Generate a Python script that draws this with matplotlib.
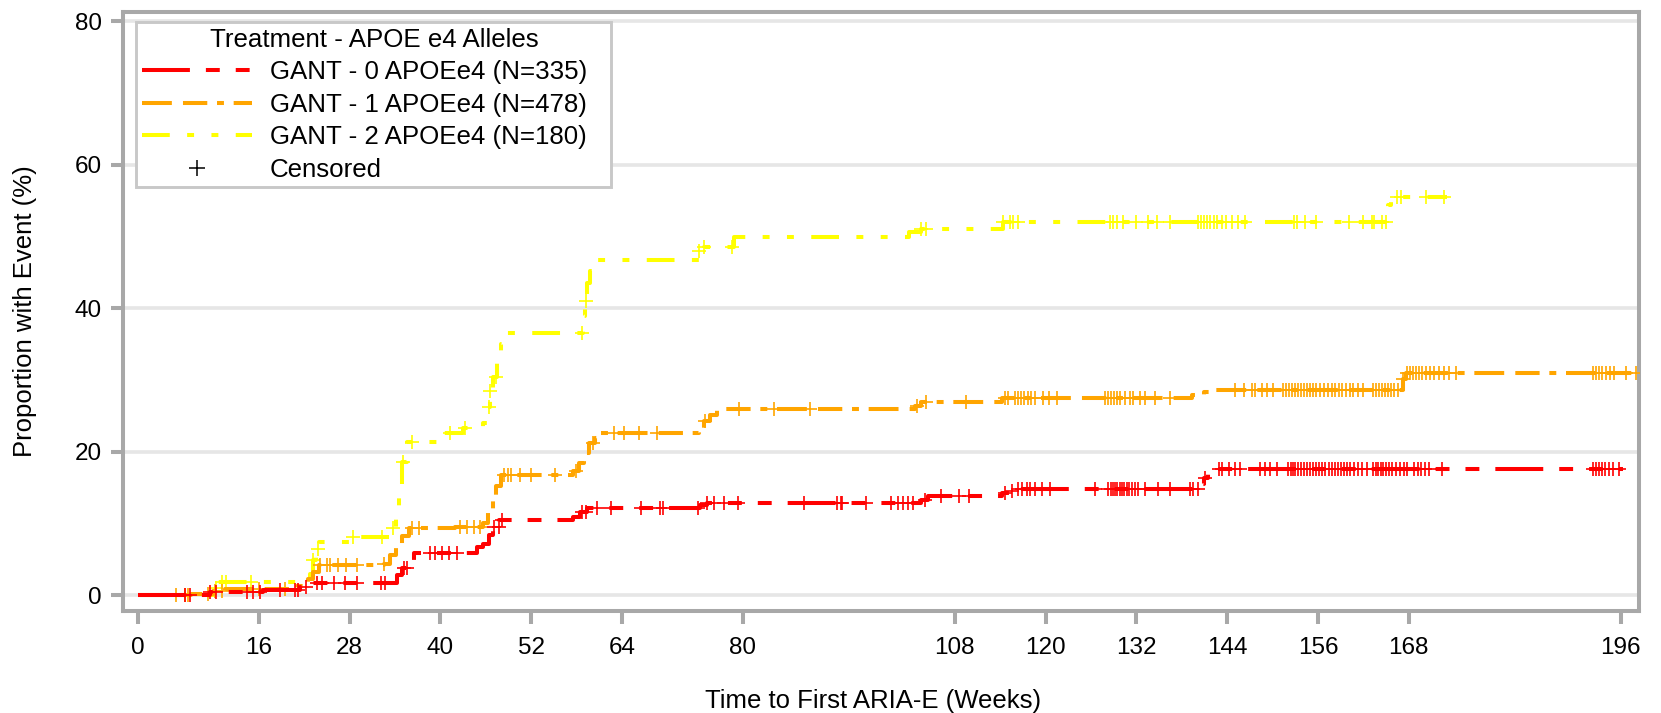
import numpy as np
import matplotlib.pyplot as plt
from matplotlib.lines import Line2D

# Cumulative proportion with first ARIA-E (%), step times in weeks
apoe0_times = [0, 9.5, 16.5, 21.5, 22.5, 34.3, 35.0, 35.7, 36.5, 44.9, 45.7,
               46.4, 47.0, 47.8, 57.6, 58.5, 59.4, 74.3, 75.3, 103.6, 104.5,
               114.2, 115.3, 116.4, 140.3, 140.9, 141.5, 142.0]
apoe0_pct = [0, 0.5, 0.8, 1.2, 1.8, 2.9, 3.8, 4.8, 5.9, 6.8, 7.2,
             8.5, 9.6, 10.5, 11.0, 11.6, 12.2, 12.6, 12.9, 13.3, 13.8,
             14.3, 14.6, 14.9, 15.6, 16.4, 17.1, 17.6]
apoe0_end = 196.3
apoe0_censor = [6.2, 6.9, 9.5, 10.4, 14.4, 15.3, 16.2, 18.8, 20.8, 21.2, 22.3,
                23.7, 24.3, 25.9, 27.4, 29.0, 32.1, 32.7,
                35.2, 35.6, 38.7, 39.3, 40.2, 41.1, 42.2,
                47.1, 47.7, 48.2, 58.7, 59.2, 60.7, 62.5, 66.5, 69.0, 69.4,
                74.0, 75.3, 76.2, 77.5, 79.3, 88.1, 92.5, 92.9, 93.1,
                96.3, 99.6, 100.5, 101.1, 101.8, 102.5,
                104.0, 106.2, 108.6, 109.9,
                114.6, 115.5, 116.4, 116.9, 117.5, 118.0, 118.6, 119.5, 120.6,
                126.5, 128.3, 128.6, 128.9, 129.2, 129.5, 129.8, 130.1, 130.4,
                130.7, 131.0, 131.4, 131.8, 132.2, 133.1, 134.9, 136.4, 139.1,
                139.5, 140.2, 141.1, 142.9, 143.3, 144.2, 145.0, 145.7, 148.4,
                149.0, 149.7, 150.6, 152.1, 152.4, 152.7, 153.0, 153.4, 153.8,
                154.2, 154.6, 155.0, 155.4, 155.8, 156.2, 156.6, 157.0, 157.4,
                157.8, 158.2, 158.6, 159.0, 159.4, 159.8, 160.3, 160.8, 161.3,
                161.8, 162.5, 163.3, 163.7, 164.0, 164.3, 164.6, 165.0, 165.4,
                165.8, 166.3, 166.9, 167.4, 167.8, 168.7, 169.2, 169.6, 170.1,
                170.7, 172.4, 192.3, 192.8, 193.2, 193.6, 194.0, 194.5, 195.0,
                195.8]

apoe1_times = [0, 7.0, 10.0, 11.5, 21.0, 22.5, 23.2, 24.0, 32.5, 33.4, 34.2,
               35.0, 35.8, 42.0, 45.7, 46.3, 46.9, 47.4, 48.0, 57.6, 58.3,
               59.0, 59.6, 60.4, 61.2, 74.2, 74.9, 75.7, 76.6, 102.7, 103.6,
               114.2, 139.4, 141.0, 142.3, 167.2, 167.6]
apoe1_pct = [0, 0.2, 0.6, 0.9, 1.3, 2.3, 3.3, 4.2, 4.4, 5.6, 7.0,
             8.3, 9.4, 9.6, 10.1, 11.8, 13.5, 15.2, 16.8, 17.3, 18.5,
             19.9, 21.3, 22.0, 22.6, 23.4, 24.3, 25.2, 26.0, 26.4, 26.9,
             27.5, 27.9, 28.3, 28.6, 30.2, 31.0]
apoe1_end = 199.5
apoe1_censor = [5.1, 6.2, 6.7, 9.3, 10.2, 11.1, 16.0, 19.5,
                24.1, 25.0, 25.4, 26.5, 27.6, 29.0, 32.5,
                36.3, 37.2, 42.6, 43.5, 44.4, 45.3,
                48.4, 48.9, 49.3, 50.6, 52.0, 55.1,
                58.0, 60.2, 62.9, 64.3, 66.2, 68.7,
                75.0, 79.5, 84.1, 88.8,
                103.0, 104.2, 109.5, 114.6, 115.1, 116.0, 116.4, 116.8, 117.2,
                117.7, 118.1, 118.6, 119.7, 120.4, 121.5,
                127.9, 128.3, 128.7, 129.1, 129.5, 129.9, 130.5, 131.2, 131.6,
                132.5, 133.1, 134.5, 136.4,
                145.1, 146.2, 147.3, 147.7, 148.6, 149.3, 150.1,
                151.4, 151.8, 152.2, 152.6, 153.0, 153.4, 153.8, 154.2, 154.6,
                155.0, 155.4, 155.8, 156.3, 156.8, 157.3, 157.8, 158.3, 158.8,
                159.2, 159.7, 160.2, 160.7, 161.3, 161.9,
                163.3, 163.7, 164.1, 164.5, 164.9, 165.3, 165.7, 166.1, 166.6,
                167.2, 167.8, 168.2, 168.6, 169.0, 169.4, 169.8, 170.3, 170.8,
                171.4, 172.0, 172.6, 173.3, 174.2,
                192.3, 192.8, 193.2, 193.6, 194.1, 194.6, 195.2, 196.7, 198.0]

apoe2_times = [0, 10.0, 10.5, 22.8, 23.2, 23.6, 24.0, 28.5, 33.8, 34.2, 34.6,
               35.0, 35.6, 40.4, 43.0, 45.7, 46.2, 46.6, 47.0, 47.5, 48.0,
               48.6, 58.8, 59.1, 59.4, 59.8, 60.7, 74.2, 74.9, 78.8, 102.0,
               103.6, 114.4, 165.2, 165.6]
apoe2_pct = [0, 1.0, 1.9, 3.0, 5.0, 6.5, 7.5, 8.2, 9.4, 12.0, 15.5,
             18.6, 21.4, 22.6, 23.4, 24.0, 26.3, 28.5, 30.5, 32.5, 35.0,
             36.6, 38.9, 41.0, 43.5, 45.2, 46.7, 48.0, 48.6, 49.9, 50.6,
             51.1, 52.1, 54.4, 55.6]
apoe2_end = 173.1
apoe2_censor = [10.4, 11.1, 11.7, 15.0, 23.2, 23.9, 28.5, 32.3, 33.8, 35.1,
                36.2, 41.3, 43.3, 46.4, 46.6, 47.3, 58.7, 59.2, 74.2, 74.9,
                78.6, 103.6, 104.2, 114.4, 115.3, 115.7, 116.4, 128.5, 128.9,
                129.4, 130.3, 132.0, 133.6, 134.7, 136.4, 140.2, 140.6, 141.0,
                141.4, 141.8, 142.2, 142.6, 143.3, 143.9, 144.6, 145.5, 146.4,
                152.8, 153.2, 154.3, 155.7, 160.1, 161.9, 163.2, 163.4, 164.5,
                165.0, 166.5, 167.0, 170.3, 172.7]

group_labels = ["GANT - 0 APOEe4 (N=335)",
                "GANT - 1 APOEe4 (N=478)",
                "GANT - 2 APOEe4 (N=180)"]
x_ticks = [0, 16, 28, 40, 52, 64, 80, 108, 120, 132, 144, 156, 168, 196]
y_ticks = [0, 20, 40, 60, 80]

# line styles, dash patterns in points
colors = ["#ff0000", "#ffa500", "#ffff00"]
dashes = [(0, (34.5, 11.5, 10.0, 11.5, 10.0, 11.5)),
          (0, (21.5, 8.0, 17.5, 7.0, 5.0, 7.0)),
          (0, (20.0, 12.5, 5.0, 12.5, 5.0, 12.5))]

GRAY = "#a8a8a8"


def step_value(times, pct, t):
    idx = np.searchsorted(times, t, side="right") - 1
    return np.asarray(pct)[idx]


def main():
    plt.rcParams["font.family"] = ["Liberation Sans", "DejaVu Sans"]
    plt.rcParams["lines.scale_dashes"] = False

    fig = plt.figure(figsize=(16.61, 7.13), dpi=100)
    ax = fig.add_axes([0.07387, 0.14306, 0.9127, 0.84081])

    groups = [
        (apoe0_times, apoe0_pct, apoe0_end, apoe0_censor),
        (apoe1_times, apoe1_pct, apoe1_end, apoe1_censor),
        (apoe2_times, apoe2_pct, apoe2_end, apoe2_censor),
    ]

    handles = []
    # draw yellow first so red ends up on top
    for i in [2, 1, 0]:
        times, pct, end, cens = groups[i]
        xs = list(times) + [end]
        ys = list(pct) + [pct[-1]]
        line, = ax.plot(xs, ys, drawstyle="steps-post", color=colors[i],
                        lw=2.9, linestyle=dashes[i], dash_capstyle="butt",
                        zorder=3 + (2 - i))
        cy = step_value(times, pct, cens)
        ax.plot(cens, cy, ls="none", marker="+", ms=9.5, mew=1.2,
                color=colors[i], zorder=3 + (2 - i))
        handles.append((i, line))

    handles = [h for _, h in sorted(handles)]
    handles.append(Line2D([], [], ls="none", marker="+", color="black",
                          ms=11.5, mew=1.1))
    labels = group_labels + ["Censored"]

    ax.set_xlim(-1.98, 198.4)
    ax.set_ylim(-2.16, 81.39)
    ax.set_xticks(x_ticks)
    ax.set_yticks(y_ticks)

    ax.yaxis.grid(True, color="#e6e6e6", lw=2.6)
    ax.set_axisbelow(True)

    for sp in ax.spines.values():
        sp.set_color(GRAY)
        sp.set_linewidth(2.9)

    ax.tick_params(length=9, width=2.9, color=GRAY, labelsize=17.5,
                   labelcolor="black")
    ax.tick_params(axis="x", pad=10)
    ax.tick_params(axis="y", pad=6)

    ax.set_xlabel("Time to First ARIA-E (Weeks)", fontsize=18.5, va="center")
    ax.xaxis.set_label_coords(0.495, -0.1501)
    ax.set_ylabel("Proportion with Event (%)", fontsize=18.5, va="center")
    ax.yaxis.set_label_coords(-0.0645, 0.5)

    leg = ax.legend(handles, labels, title="Treatment - APOE e4 Alleles",
                    loc="upper left", bbox_to_anchor=(0.0091, 0, 0.3133, 0.9817),
                    mode="expand", borderaxespad=0, fontsize=18.6,
                    title_fontsize=18.6, handlelength=4.26, handletextpad=0.7,
                    labelspacing=0.33, borderpad=0.2, fancybox=False,
                    framealpha=1, edgecolor="#c8c8c8")
    leg.get_frame().set_linewidth(2.1)
    leg.set_zorder(10)

    fig.savefig("out.png", dpi=100)
    plt.close(fig)


if __name__ == "__main__":
    main()
